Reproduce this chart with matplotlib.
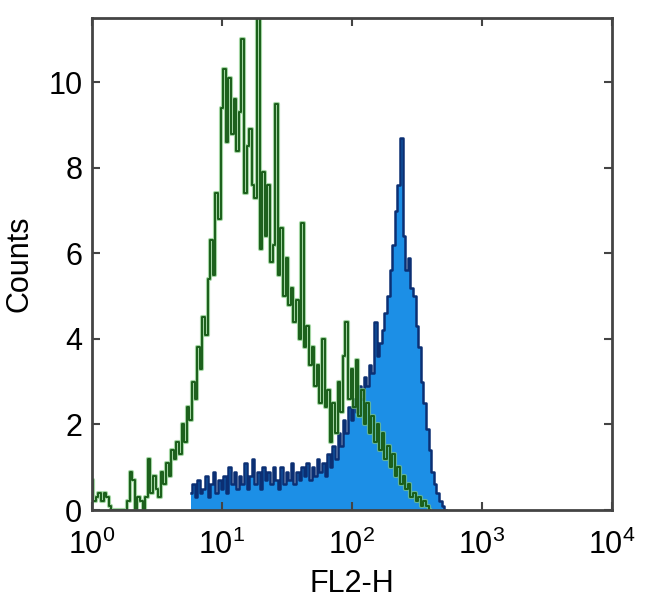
import numpy as np
import matplotlib.pyplot as plt

plt.rcParams['font.family'] = ['Liberation Sans', 'DejaVu Sans']
plt.rcParams['mathtext.fontset'] = 'custom'
plt.rcParams['mathtext.rm'] = 'Liberation Sans'

# isotype control (green), log10 channel centres start at 0.0, step 0.02
green_start = 0.0
green_counts = [
    0.7, 0.2, 0.3, 0.4, 0.2, 0.4, 0.3, 0.1, 0.0, 0.0,
    0.0, 0.0, 0.0, 0.0, 0.2, 0.9, 0.7, 0.0, 0.3, 0.2,
    0.0, 0.3, 1.2, 0.4, 0.8, 0.5, 0.3, 0.9, 0.6, 1.1,
    0.8, 1.4, 1.2, 1.6, 1.3, 2.0, 1.6, 2.4, 2.1, 3.0,
    2.6, 3.8, 3.3, 4.5, 4.1, 5.4, 6.3, 5.5, 7.4, 6.8,
    9.4, 10.3, 8.6, 10.1, 8.8, 9.6, 8.4, 9.3, 11.0, 7.4,
    8.5, 8.9, 7.6, 7.3, 11.5, 6.1, 7.9, 6.4, 7.6, 5.8,
    6.2, 9.5, 5.5, 6.6, 5.0, 5.9, 4.8, 5.2, 4.4, 4.9,
    4.0, 6.7, 3.8, 4.3, 3.4, 3.8, 2.9, 3.4, 2.5, 4.0,
    2.4, 2.8, 1.6, 2.5, 1.8, 3.0, 2.3, 3.6, 4.4, 2.6,
    3.3, 2.4, 3.5, 2.2, 2.8, 2.0, 2.5, 1.8, 2.2, 1.6,
    2.0, 1.4, 1.8, 1.2, 1.5, 1.0, 1.3, 0.8, 1.0, 0.6,
    0.8, 0.5, 0.6, 0.3, 0.4, 0.2, 0.3, 0.1, 0.2, 0.1,
    0.0,
]

# stained sample (blue), log10 channel centres start at 0.76, step 0.02
blue_start = 0.76
blue_counts = [
    0.4, 0.6, 0.3, 0.7, 0.4, 0.5, 0.8, 0.3, 0.6, 0.9,
    0.4, 0.7, 0.5, 0.8, 0.4, 1.0, 0.6, 0.9, 0.5, 0.8,
    0.6, 1.1, 0.5, 0.8, 1.2, 0.6, 0.9, 0.5, 1.0, 0.7,
    0.9, 0.6, 1.0, 0.7, 0.5, 1.0, 0.6, 0.9, 0.7, 1.1,
    0.6, 0.9, 0.7, 1.0, 0.8, 1.1, 0.7, 1.0, 0.8, 1.2,
    0.9, 1.1, 0.8, 1.3, 1.0, 1.5, 1.2, 1.8, 1.5, 2.1,
    1.8, 2.4, 2.1, 2.6, 2.3, 2.9, 2.6, 3.1, 2.9, 3.4,
    3.2, 4.4, 3.6, 3.9, 4.2, 4.6, 5.0, 5.6, 6.2, 7.0,
    7.6, 8.7, 6.4, 5.6, 5.9, 5.2, 5.0, 4.3, 3.8, 3.0,
    2.5, 1.9, 1.4, 0.9, 0.6, 0.4, 0.2, 0.1, 0.0,
]
bin_step = 0.02

x_ticks = [1, 10, 100, 1000, 10000]
x_ticklabels = ['$10^{0}$', '$10^{1}$', '$10^{2}$', '$10^{3}$', '$10^{4}$']
y_ticks = [0, 2, 4, 6, 8, 10]

gx = 10 ** (green_start + bin_step * np.arange(len(green_counts)))
bx = 10 ** (blue_start + bin_step * np.arange(len(blue_counts)))

fig = plt.figure(figsize=(6.5, 6.15), dpi=100)
ax = fig.add_axes([0.1415, 0.1707, 0.8, 0.8])

ax.fill_between(bx, blue_counts, step='mid', color='#1c8fe6', lw=0)
ax.step(bx, blue_counts, where='mid', color='#0b2f73', lw=1.8)
ax.step(gx, green_counts, where='mid', color='#7cc47c', lw=3.0, alpha=0.7)
ax.step(gx, green_counts, where='mid', color='#1a5e1a', lw=1.4)

ax.set_xscale('log')
ax.set_xlim(1, 10000)
ax.set_ylim(0, 11.5)
ax.set_xticks(x_ticks)
ax.set_xticklabels(x_ticklabels)
ax.xaxis.set_minor_locator(plt.NullLocator())
ax.set_yticks(y_ticks)

ax.tick_params(direction='in', length=6, width=1.5, color='#444444',
               labelsize=22, top=True, right=True, pad=7)
ax.tick_params(axis='x', pad=14)
for s in ax.spines.values():
    s.set_linewidth(2)
    s.set_color('#444444')

ax.set_xlabel('FL2-H', fontsize=22, labelpad=6)
ax.set_ylabel('Counts', fontsize=22, labelpad=10)

fig.savefig('out.png', dpi=100)
